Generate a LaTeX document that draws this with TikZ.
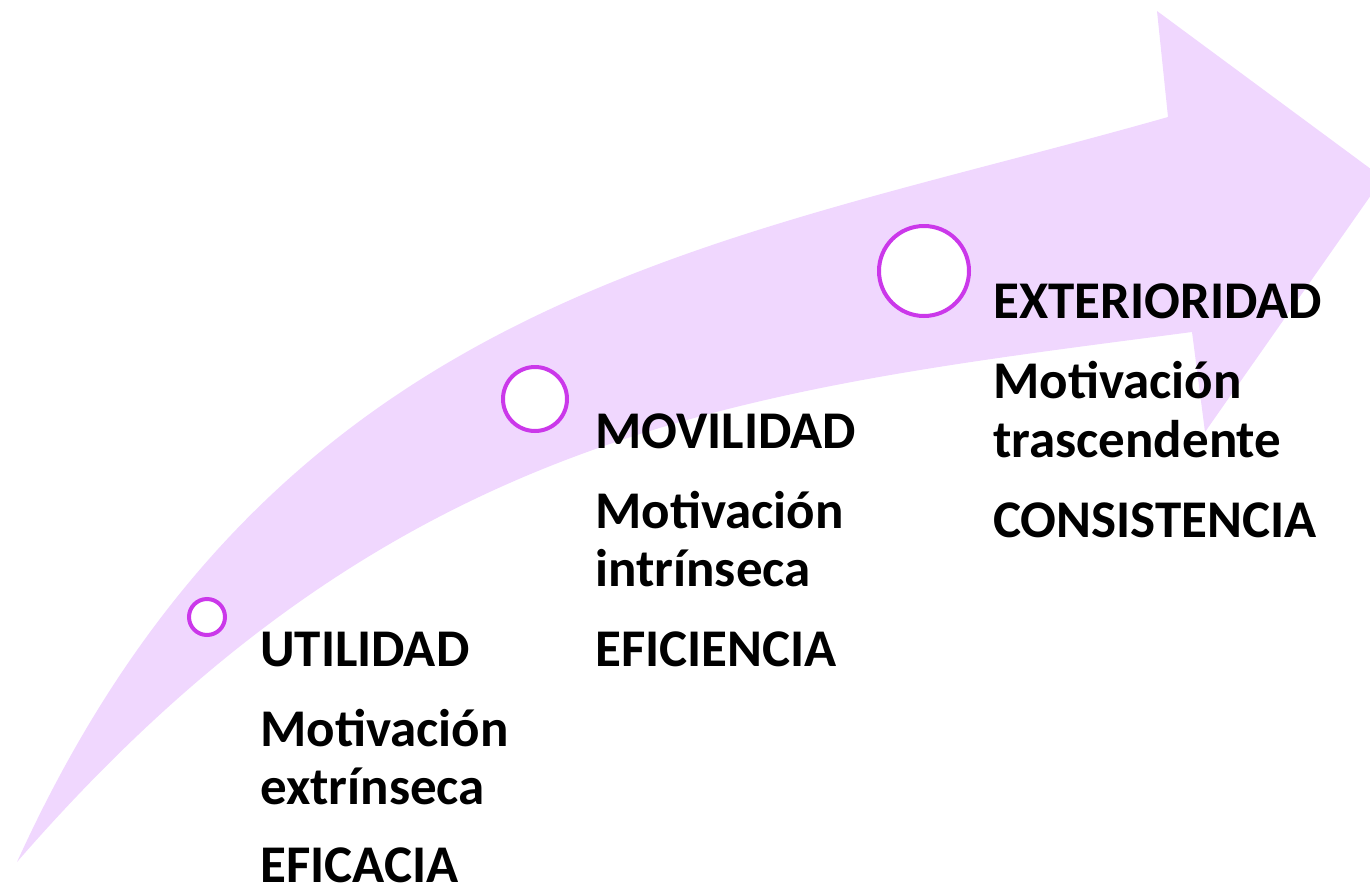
\documentclass[tikz,border=0pt]{standalone}
\usepackage{fontspec}
\setmainfont{Carlito}
\definecolor{bandfill}{RGB}{240,215,254}
\definecolor{ringcol}{RGB}{203,56,234}
\tikzset{
  ring/.style={circle, draw=ringcol, fill=white, line width=4pt, inner sep=0pt},
  lbl/.style={anchor=base west, inner sep=0pt, font=\bfseries\fontsize{53}{58}\selectfont, text=black}
}
\begin{document}
\begin{tikzpicture}[x=1pt,y=-1pt]
\useasboundingbox (0,0) rectangle (1370,886);
\clip (0,0) rectangle (1370,886);
% curved arrow band
\fill[bandfill] (17,862) .. controls (277,290) and (718,245) .. (1168,117)
  -- (1157,11) -- (1383,178) -- (1205,432) -- (1192,332)
  .. controls (742,391) and (397,425) .. (17,862) -- cycle;
% rings
\node[ring, minimum size=36pt] (r1) at (207,617) {};
\node[ring, minimum size=64pt] (r2) at (535,399) {};
\node[ring, minimum size=90pt] (r3) at (924,271) {};
% group 1
\node[lbl] (u1) at (260,666) {UTILIDAD};
\node[lbl] (u2) at (260,746) {Motivación};
\node[lbl] (u3) at (260,804) {extrínseca};
\node[lbl] (u4) at (260,882) {EFICACIA};
% group 2
\node[lbl] (m1) at (595,448) {MOVILIDAD};
\node[lbl] (m2) at (595,528) {Motivación};
\node[lbl] (m3) at (595,586) {intrínseca};
\node[lbl] (m4) at (595,666) {EFICIENCIA};
% group 3
\node[lbl] (e1) at (993,318) {EXTERIORIDAD};
\node[lbl] (e2) at (993,398) {Motivación};
\node[lbl] (e3) at (993,457) {trascendente};
\node[lbl] (e4) at (993,537) {CONSISTENCIA};
\end{tikzpicture}
\end{document}
